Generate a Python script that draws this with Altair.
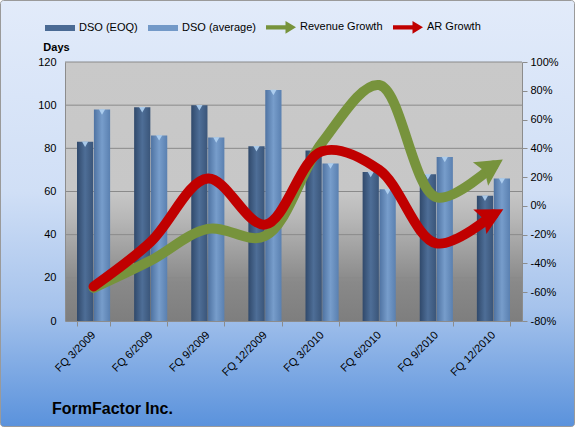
import altair as alt
import pandas as pd

quarters = ["FQ 3/2009", "FQ 6/2009", "FQ 9/2009", "FQ 12/2009",
            "FQ 3/2010", "FQ 6/2010", "FQ 9/2010", "FQ 12/2010"]
dso_eoq = [83, 99, 100, 81, 79, 69, 68, 58]
dso_avg = [98, 86, 85, 107, 73, 61, 76, 66]
revenue_growth = [-57, -38, -16, -21, 44, 84, 6, 28]
ar_growth = [-56, -25, 19, -13, 38, 25, -26, -6]
series_names = ["DSO (EOQ)", "DSO (average)", "Revenue Growth", "AR Growth"]
series_colors = ["#4a6a94", "#7399c8", "#77933c", "#c00000"]
day_ticks = [0, 20, 40, 60, 80, 100, 120]
grid_days = [20, 40, 60, 80, 100, 120]
pct_ticks = [-80, -60, -40, -20, 0, 20, 40, 60, 80, 100]

W, H = 457, 259
FONT = "Liberation Sans"

bars_df = pd.DataFrame({
    "quarter": quarters * 2,
    "series": ["DSO (EOQ)"] * len(quarters) + ["DSO (average)"] * len(quarters),
    "value": dso_eoq + dso_avg,
})
lines_df = pd.DataFrame({
    "quarter": quarters * 2,
    "series": ["Revenue Growth"] * len(quarters) + ["AR Growth"] * len(quarters),
    "pct": revenue_growth + ar_growth,
})
grid_df = pd.DataFrame({"value": grid_days})
legend_df = pd.DataFrame({"series": series_names})

x_enc = alt.X("quarter:N", sort=quarters,
              scale=alt.Scale(domain=quarters, paddingInner=0.42, paddingOuter=0.21),
              axis=alt.Axis(title=None, labelAngle=315, labelAlign="right",
                            labelBaseline="middle", labelFont=FONT, labelFontSize=11,
                            labelColor="#000", tickBand="extent", tickSize=5,
                            tickColor="#8c8c8c", domainColor="#8c8c8c",
                            labelPadding=7, zindex=1))
days_axis = alt.Axis(title="Days", values=day_ticks, grid=False, ticks=False,
                     tickSize=0, labelPadding=9, labelFont=FONT, labelFontSize=11,
                     labelColor="#000", domainColor="#8c8c8c", titleAngle=0,
                     titleX=-9, titleY=-10, titleAlign="center", titleBaseline="bottom",
                     titleFont=FONT, titleFontSize=11, titleFontWeight="bold",
                     titleColor="#000", zindex=1)
days_scale = alt.Scale(domain=[0, 120], nice=False)
y_days = alt.Y("value:Q", scale=days_scale, axis=days_axis)
pct_axis = alt.Axis(title=None, orient="right", values=pct_ticks, grid=False,
                    labelExpr="datum.value + '%'", tickSize=5, tickColor="#8c8c8c",
                    domainColor="#8c8c8c", labelPadding=3, labelFont=FONT,
                    labelFontSize=11, labelColor="#000", zindex=1)
y_pct = alt.Y("pct:Q", scale=alt.Scale(domain=[-80, 100], nice=False), axis=pct_axis)
xoff = alt.XOffset("series:N", scale=alt.Scale(domain=["DSO (EOQ)", "DSO (average)"],
                                               paddingInner=0.04))

blue_bg = {"gradient": "linear", "x1": 0, "y1": 0, "x2": 0, "y2": 1,
           "stops": [{"offset": 0, "color": "#e2ebfa"},
                     {"offset": 0.45, "color": "#d0dff6"},
                     {"offset": 0.72, "color": "#a6c3ec"},
                     {"offset": 1, "color": "#5a92dc"}]}
gray_bg = {"gradient": "linear", "x1": 0, "y1": 0, "x2": 0, "y2": 1,
           "stops": [{"offset": 0, "color": "#c9c9c9"},
                     {"offset": 0.5, "color": "#c7c7c7"},
                     {"offset": 0.6, "color": "#b8b8b8"},
                     {"offset": 0.85, "color": "#898989"},
                     {"offset": 1, "color": "#7e7e7e"}]}
eoq_grad = {"gradient": "linear", "x1": 0, "y1": 0, "x2": 1, "y2": 0,
            "stops": [{"offset": 0, "color": "#30496b"},
                      {"offset": 0.5, "color": "#4e6e97"},
                      {"offset": 1, "color": "#3a5579"}]}
avg_grad = {"gradient": "linear", "x1": 0, "y1": 0, "x2": 1, "y2": 0,
            "stops": [{"offset": 0, "color": "#4f73a2"},
                      {"offset": 0.5, "color": "#779dcb"},
                      {"offset": 1, "color": "#5a80b0"}]}

one = pd.DataFrame({"k": [0]})
chart_bg = alt.Chart(one).mark_rect(color=blue_bg, stroke="#9a9a9a", strokeWidth=1,
                                    cornerRadius=3).encode(
    x=alt.value(-64.5), x2=alt.value(W + 52.5), y=alt.value(-61.5), y2=alt.value(H + 105.5))
plot_bg = alt.Chart(one).mark_rect(color=gray_bg).encode(
    x=alt.value(0), x2=alt.value(W), y=alt.value(0), y2=alt.value(H))
grid = alt.Chart(grid_df).mark_rule(color="#8a8a8a", strokeWidth=1).encode(y=y_days)

bars_eoq = alt.Chart(bars_df).transform_filter("datum.series == 'DSO (EOQ)'").mark_bar(
    color=eoq_grad).encode(x=x_enc, xOffset=xoff, y=y_days)
bars_avg = alt.Chart(bars_df).transform_filter("datum.series == 'DSO (average)'").mark_bar(
    color=avg_grad).encode(x=x_enc, xOffset=xoff, y=y_days)
caps = alt.Chart(bars_df).mark_point(shape="triangle-down", filled=True, color="#b3d3f2",
                                     size=40, opacity=0.9, yOffset=2.5).encode(
    x=x_enc, xOffset=xoff, y=y_days)

days_layer = alt.layer(chart_bg, plot_bg, grid, bars_eoq, bars_avg, caps)

arrow_path = "M0.8,0L-1.1,-1.0L-0.75,0L-1.1,1.0Z"
rev_line = alt.Chart(lines_df).transform_filter("datum.series == 'Revenue Growth'").mark_line(
    interpolate="catmull-rom", strokeWidth=10, strokeCap="round", strokeJoin="round",
    color="#77933c").encode(x=x_enc, y=y_pct)
ar_line = alt.Chart(lines_df).transform_filter("datum.series == 'AR Growth'").mark_line(
    interpolate="catmull-rom", strokeWidth=10, strokeCap="round", strokeJoin="round",
    color="#c00000").encode(x=x_enc, y=y_pct)
rev_head = alt.Chart(lines_df).transform_filter(
    f"datum.series == 'Revenue Growth' && datum.quarter == '{quarters[-1]}'").mark_point(
    shape=arrow_path, filled=True, size=784, angle=327, color="#77933c", opacity=1).encode(
    x=x_enc, y=y_pct)
ar_head = alt.Chart(lines_df).transform_filter(
    f"datum.series == 'AR Growth' && datum.quarter == '{quarters[-1]}'").mark_point(
    shape=arrow_path, filled=True, size=784, angle=332, color="#c00000", opacity=1).encode(
    x=x_enc, y=y_pct)
pct_layer = alt.layer(rev_line, ar_line, rev_head, ar_head)

sym_expr = ("(datum.value == 'Revenue Growth' || datum.value == 'AR Growth') ? "
            "'M-1,-0.14H0.3V-0.42L1,0L0.3,0.42V0.14H-1Z' : 'M-1,-0.2H1V0.2H-1Z'")
legend_layer = alt.Chart(legend_df).mark_point(filled=True, opacity=0).encode(
    fill=alt.Fill("series:N", sort=series_names,
                  scale=alt.Scale(domain=series_names, range=series_colors),
                  legend=alt.Legend(orient="none", legendX=-20, legendY=-50,
                                    direction="horizontal", title=None,
                                    symbolType={"expr": sym_expr}, symbolSize=900,
                                    symbolStrokeWidth=0, symbolOpacity=1,
                                    labelFont=FONT, labelFontSize=11, labelColor="#000",
                                    labelOffset=4, columnPadding=10)))

chart = alt.layer(days_layer, pct_layer, legend_layer).resolve_scale(
    y="independent").properties(
    width=W, height=H,
    autosize=alt.AutoSizeParams(type="none"),
    padding={"left": 65, "top": 62, "right": 53, "bottom": 106},
    title=alt.TitleParams("FormFactor Inc.", orient="bottom", anchor="start",
                          frame="group", font=FONT, fontSize=16, fontWeight="bold",
                          color="#000", offset=-26, dx=-13),
).configure_view(stroke=None)

chart.save("out.html", embed_options={"renderer": "svg", "actions": False})
